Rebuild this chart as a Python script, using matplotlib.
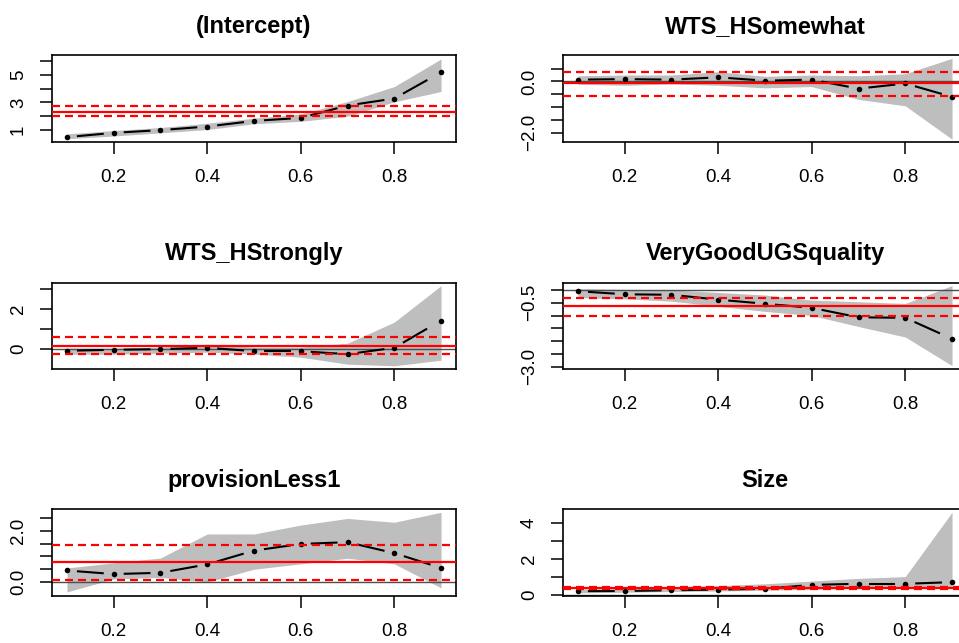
import matplotlib.pyplot as plt
import numpy as np

plt.rcParams['font.family'] = ['Liberation Sans', 'DejaVu Sans']
plt.rcParams['lines.scale_dashes'] = False

taus = [0.1, 0.2, 0.3, 0.4, 0.5, 0.6, 0.7, 0.8, 0.9]

titles = ['(Intercept)', 'WTS_HSomewhat', 'WTS_HStrongly',
          'VeryGoodUGSquality', 'provisionLess1', 'Size']

# quantile regression coefficients with their confidence bands
coef_int = [0.47, 0.78, 0.98, 1.24, 1.65, 1.87, 2.77, 3.28, 5.19]
lo_int = [0.35, 0.55, 0.78, 1.02, 1.44, 1.62, 1.99, 3.04, 3.79]
hi_int = [0.71, 0.95, 1.17, 1.48, 1.85, 2.14, 3.06, 4.15, 6.16]

coef_some = [0.07, 0.09, 0.07, 0.16, 0.03, 0.07, -0.28, -0.08, -0.60]
lo_some = [-0.11, -0.15, -0.10, -0.15, -0.25, -0.20, -0.70, -0.95, -2.25]
hi_some = [0.22, 0.25, 0.25, 0.38, 0.20, 0.25, 0.22, 0.30, 0.90]

coef_strong = [-0.08, -0.03, 0.00, 0.07, -0.10, -0.10, -0.25, 0.07, 1.43]
lo_strong = [-0.25, -0.25, -0.20, -0.15, -0.25, -0.40, -0.75, -0.83, -0.55]
hi_strong = [0.05, 0.05, 0.10, 0.25, 0.10, 0.10, 0.30, 1.35, 3.17]

coef_ugs = [-0.05, -0.17, -0.19, -0.38, -0.54, -0.70, -1.07, -1.09, -1.91]
lo_ugs = [-0.30, -0.35, -0.44, -0.64, -0.84, -1.00, -1.43, -1.84, -2.96]
hi_ugs = [0.05, 0.02, 0.00, -0.10, -0.20, -0.40, -0.46, -0.53, 0.17]

coef_prov = [0.45, 0.31, 0.36, 0.69, 1.23, 1.49, 1.56, 1.13, 0.55]
lo_prov = [-0.39, 0.12, 0.18, 0.00, 0.50, 0.71, 0.93, 0.71, -0.23]
hi_prov = [0.55, 0.75, 0.94, 1.88, 1.88, 2.23, 2.49, 2.34, 2.73]

coef_size = [0.19, 0.20, 0.24, 0.28, 0.32, 0.54, 0.60, 0.60, 0.69]
lo_size = [0.10, 0.13, 0.17, 0.20, 0.24, 0.30, 0.35, 0.40, 0.45]
hi_size = [0.30, 0.35, 0.42, 0.50, 0.60, 0.75, 0.90, 1.00, 4.57]

# OLS estimate and its interval (red lines)
ols = [2.33, -0.07, 0.18, -0.64, 0.79, 0.37]
ols_lo = [1.99, -0.57, -0.22, -1.01, 0.09, 0.32]
ols_hi = [2.70, 0.37, 0.60, -0.32, 1.45, 0.41]

ylims = [(0.15, 6.45), (-2.34, 1.03), (-0.99, 3.33),
         (-3.09, 0.29), (-0.53, 2.86), (-0.05, 4.75)]
yticks = [[1, 2, 3, 4, 5, 6],
          [0.5, 0, -0.5, -1, -1.5, -2],
          [0, 1, 2, 3],
          [0, -0.5, -1, -1.5, -2, -2.5, -3],
          [0, 0.5, 1, 1.5, 2, 2.5],
          [0, 1, 2, 3, 4]]
ylabels = [['1', '', '3', '', '5', ''],
           ['', '0.0', '', '', '', '\u22122.0'],
           ['0', '', '2', ''],
           ['', '\u22120.5', '', '', '', '', '\u22123.0'],
           ['0.0', '', '', '', '2.0', ''],
           ['0', '', '2', '', '4']]

coefs = [coef_int, coef_some, coef_strong, coef_ugs, coef_prov, coef_size]
los = [lo_int, lo_some, lo_strong, lo_ugs, lo_prov, lo_size]
his = [hi_int, hi_some, hi_strong, hi_ugs, hi_prov, hi_size]

W, H = 959, 643
fig = plt.figure(figsize=(W / 100, H / 100), dpi=100)

lefts = [52, 563]
tops = [55, 282.5, 509]
pw, ph = 404, 86.5

px = 0.72  # points per pixel


def panel(ax, i):
    ax.set_xlim(0.068, 0.932)
    ax.set_ylim(*ylims[i])
    ax.fill_between(taus, los[i], his[i], color='#BEBEBE', lw=0, zorder=1)
    ax.axhline(0, color='#4D4D4D', lw=1.0, zorder=2)
    # type="b" line: dashed pieces with gaps round the points
    pts = ax.transData.transform(np.column_stack([taus, coefs[i]]))
    inv = ax.transData.inverted()
    gap = 10
    for p0, p1 in zip(pts[:-1], pts[1:]):
        d = p1 - p0
        u = d / np.hypot(*d)
        seg = inv.transform([p0 + u * gap, p1 - u * gap])
        ax.plot(seg[:, 0], seg[:, 1], color='black', lw=1.5,
                ls=(0, (28 * px, 12 * px)), dash_capstyle='butt', zorder=3)
    ax.plot(taus, coefs[i], 'o', color='black', ms=4, mew=0, zorder=4)
    ax.axhline(ols[i], color='red', lw=1.6, zorder=5)
    for v in (ols_lo[i], ols_hi[i]):
        ax.axhline(v, color='red', lw=1.6, ls=(0, (8 * px, 5 * px)),
                   dash_capstyle='butt', zorder=5)
    ax.set_xticks([0.2, 0.4, 0.6, 0.8], ['0.2', '0.4', '0.6', '0.8'])
    ax.set_yticks(yticks[i], ylabels[i], rotation=90, va='center')
    ax.tick_params(direction='out', length=8.5, width=1.1, labelsize=13.5,
                   pad=11)
    ax.tick_params(axis='y', pad=9.5)
    for s in ax.spines.values():
        s.set_linewidth(1.2)
    ax.set_title(titles[i], fontsize=17, fontweight='bold', pad=16)


for i in range(6):
    r, c = divmod(i, 2)
    x0 = lefts[c] / W
    y0 = 1 - (tops[r] + ph) / H
    ax = fig.add_axes([x0, y0, pw / W, ph / H])
    panel(ax, i)

fig.savefig('out.png', dpi=100)
